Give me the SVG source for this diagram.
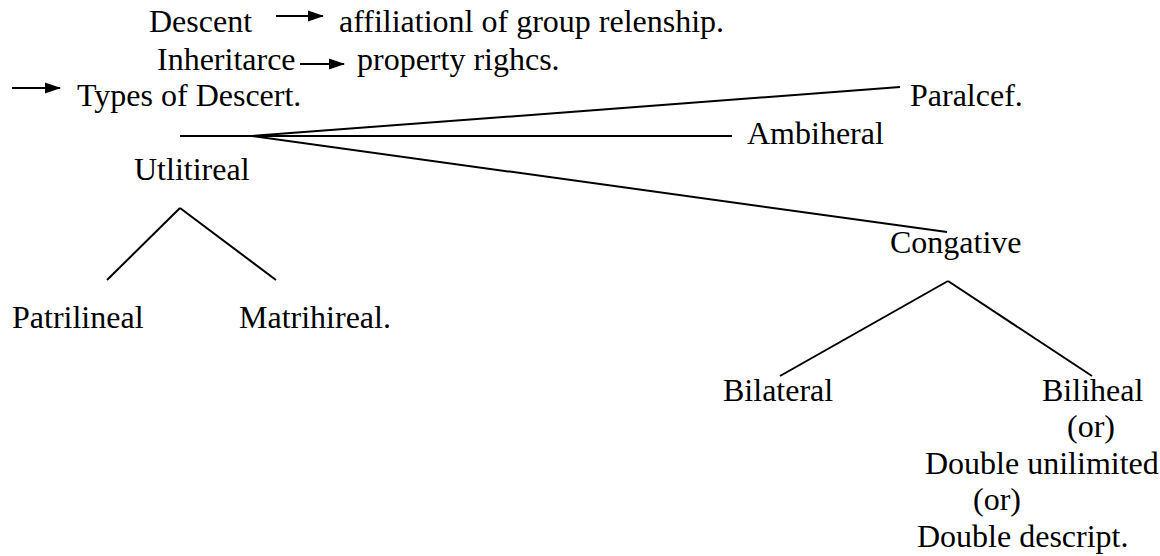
<svg xmlns="http://www.w3.org/2000/svg" width="1160" height="556" viewBox="0 0 1160 556">
  <style>
    text { font-family: "Liberation Serif", "Times New Roman", serif; font-size: 32px; fill: #000; }
    .edge { stroke: #000; stroke-width: 2; fill: none; }
    .arrow { stroke: #000; stroke-width: 2; fill: none; marker-end: url(#head); }
  </style>
  <defs>
    <marker id="head" markerWidth="16" markerHeight="14" refX="15" refY="7" orient="auto" markerUnits="userSpaceOnUse">
      <path d="M0,1.5 L16,7 L0,12.5 Z" fill="#000"/>
    </marker>
  </defs>
  <rect width="1160" height="556" fill="#fff"/>

  <g id="connectors">
    <line class="arrow" x1="276" y1="16" x2="323" y2="16"/>
    <line class="arrow" x1="300" y1="64" x2="344" y2="64"/>
    <line class="arrow" x1="12" y1="88" x2="60" y2="88"/>
    <line class="edge" x1="180" y1="136" x2="732" y2="136"/>
    <line class="edge" x1="252" y1="136" x2="900" y2="87"/>
    <line class="edge" x1="252" y1="136" x2="947" y2="232"/>
    <line class="edge" x1="180" y1="208" x2="107" y2="280"/>
    <line class="edge" x1="180" y1="208" x2="276" y2="280"/>
    <line class="edge" x1="948" y1="281" x2="780" y2="376"/>
    <line class="edge" x1="948" y1="281" x2="1092" y2="376"/>
  </g>

  <g id="descent"><text x="149" y="32">Descent</text></g>
  <g id="affiliation"><text x="339" y="32">affiliationl of group relenship.</text></g>
  <g id="inheritance"><text x="157" y="70">Inheritarce</text></g>
  <g id="property"><text x="357" y="70">property righcs.</text></g>
  <g id="types"><text x="77" y="106">Types of Descert.</text></g>
  <g id="paralcef"><text x="910" y="106">Paralcef.</text></g>
  <g id="ambiheral"><text x="747" y="144">Ambiheral</text></g>
  <g id="utlitireal"><text x="134" y="180">Utlitireal</text></g>
  <g id="congative"><text x="890" y="253">Congative</text></g>
  <g id="patrilineal"><text x="12" y="328">Patrilineal</text></g>
  <g id="matrihireal"><text x="239" y="328">Matrihireal.</text></g>
  <g id="bilateral"><text x="723" y="401">Bilateral</text></g>
  <g id="biliheal">
    <text x="1042" y="401">Biliheal</text>
    <text x="1067" y="437">(or)</text>
    <text x="925" y="474">Double unilimited</text>
    <text x="973" y="510">(or)</text>
    <text x="917" y="547">Double descript.</text>
  </g>
</svg>
